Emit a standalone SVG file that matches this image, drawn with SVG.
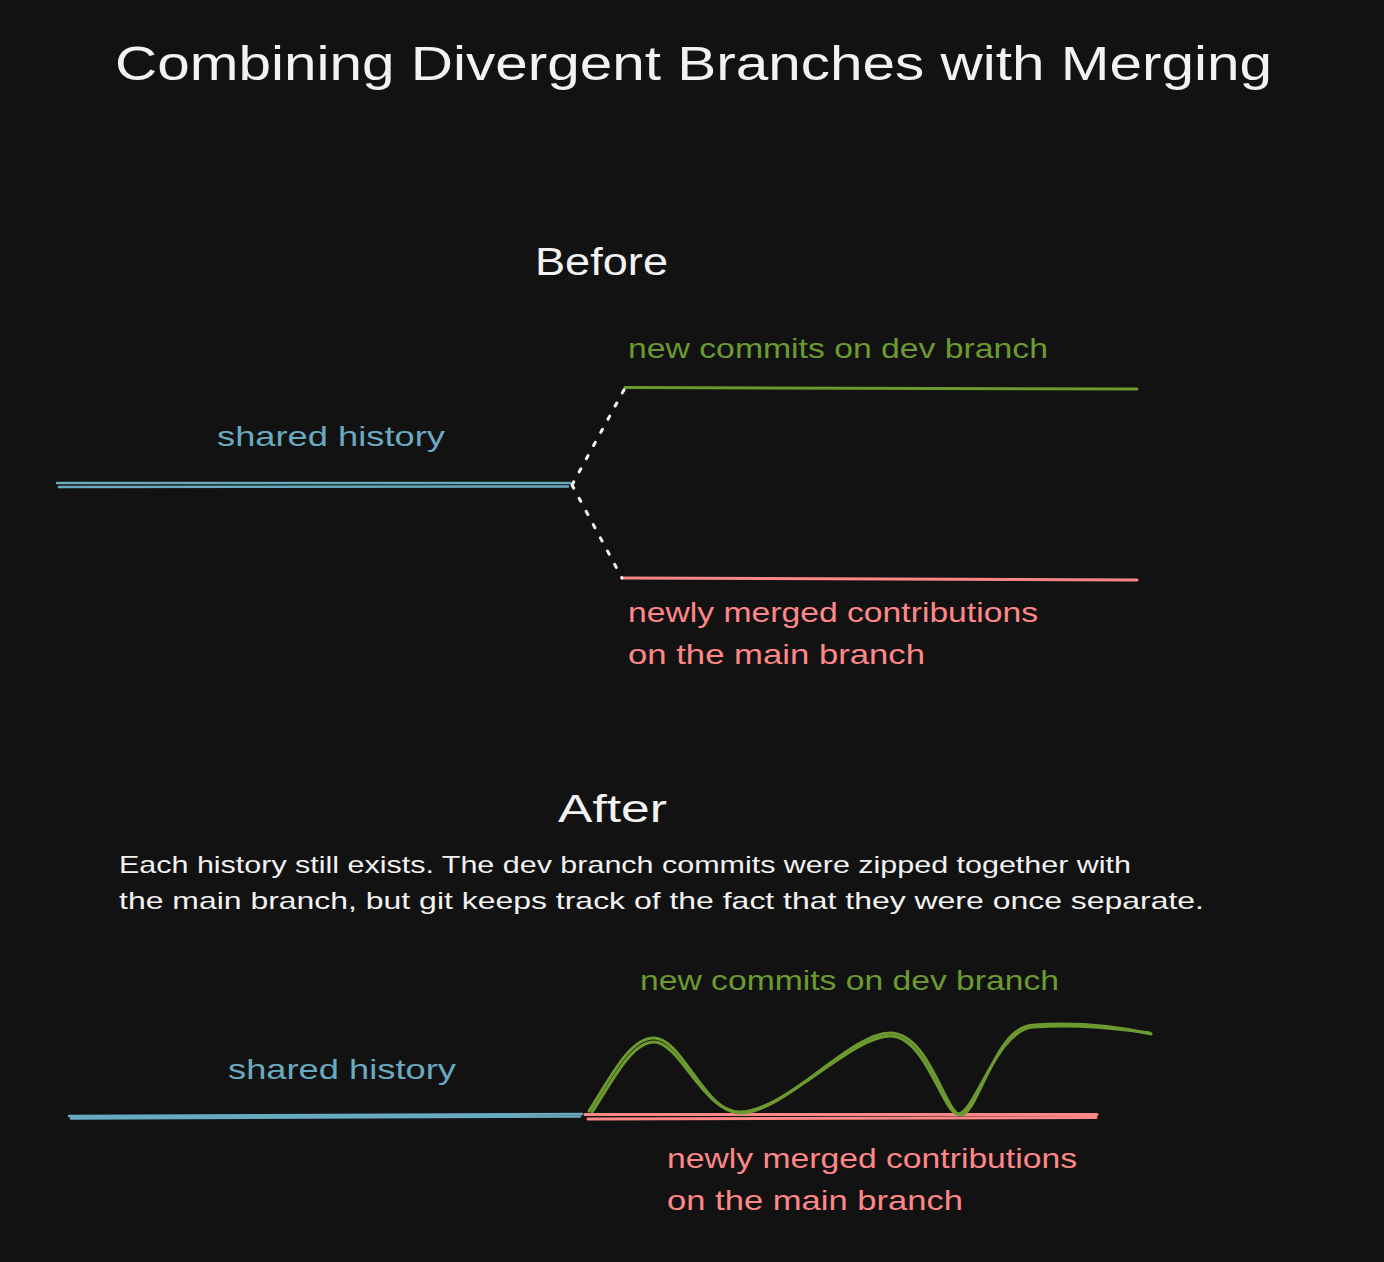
<svg xmlns="http://www.w3.org/2000/svg" width="1384" height="1262" viewBox="0 0 1384 1262">
<style>
text{font-family:"Liberation Sans","Noto Sans",sans-serif;}
.w{fill:#f2f2f2;}
.b{fill:#6aaac0;}
.g{fill:#6c9a30;}
.r{fill:#ff8787;}
.lb{stroke:#6aaac0;stroke-width:2.5;fill:none;stroke-linecap:round;}
.lg{stroke:#6c9a30;stroke-width:3;fill:none;stroke-linecap:round;}
.lr{stroke:#ff8787;stroke-width:3;fill:none;stroke-linecap:round;}
.dot{stroke:#f2f2f2;stroke-width:3;fill:none;stroke-dasharray:3.5 11.5;stroke-linecap:round;}
</style>
<rect width="1384" height="1262" fill="#121212"/>
<g id="title"><text class="w" x="115" y="80" font-size="48" textLength="1157" lengthAdjust="spacingAndGlyphs">Combining Divergent Branches with Merging</text></g>
<g id="before-label"><text class="w" x="535" y="275" font-size="38" textLength="133" lengthAdjust="spacingAndGlyphs">Before</text></g>
<g id="before-dev-label"><text class="g" x="628" y="358" font-size="28" textLength="420" lengthAdjust="spacingAndGlyphs">new commits on dev branch</text></g>
<g id="before-shared-label"><text class="b" x="217" y="446" font-size="28" textLength="228" lengthAdjust="spacingAndGlyphs">shared history</text></g>
<g id="before-main-label">
<text class="r" x="628" y="622" font-size="28" textLength="410" lengthAdjust="spacingAndGlyphs">newly merged contributions</text>
<text class="r" x="628" y="664" font-size="28" textLength="297" lengthAdjust="spacingAndGlyphs">on the main branch</text>
</g>
<g id="after-label"><text class="w" x="558" y="822" font-size="38" textLength="109" lengthAdjust="spacingAndGlyphs">After</text></g>
<g id="after-description">
<text class="w" x="119" y="873" font-size="24" textLength="1012" lengthAdjust="spacingAndGlyphs">Each history still exists. The dev branch commits were zipped together with</text>
<text class="w" x="119" y="909" font-size="24" textLength="1085" lengthAdjust="spacingAndGlyphs">the main branch, but git keeps track of the fact that they were once separate.</text>
</g>
<g id="after-dev-label"><text class="g" x="640" y="990" font-size="28" textLength="419" lengthAdjust="spacingAndGlyphs">new commits on dev branch</text></g>
<g id="after-shared-label"><text class="b" x="228" y="1079" font-size="28" textLength="228" lengthAdjust="spacingAndGlyphs">shared history</text></g>
<g id="after-main-label">
<text class="r" x="667" y="1168" font-size="28" textLength="410" lengthAdjust="spacingAndGlyphs">newly merged contributions</text>
<text class="r" x="667" y="1210" font-size="28" textLength="296" lengthAdjust="spacingAndGlyphs">on the main branch</text>
</g>
<g id="connectors">
<path class="lb" d="M57,483 L570,483 M59,487 L568,486.5"/>
<path class="lg" d="M625,387.5 L1137,389"/>
<path class="lr" d="M622,578 L1137,580"/>
<path class="dot" d="M572,485 L625,388 M572,485 L622,578"/>
<path class="lb" d="M69,1116 L582,1114 M71,1118.5 L580,1116.5"/>
<path class="lr" d="M585,1114.5 L1097,1114.5 M588,1119 L1096,1117.5"/>
<path class="lg" d="M589,1111 C612,1075 630,1038 654,1038 C682,1038 705,1113 740,1113 C785,1113 850,1033 890,1033 C930,1033 945,1115 961,1115 C978,1115 995,1025 1034,1025 C1080,1022 1120,1027 1151,1034"/>
<path class="lg" d="M592,1112 C614,1078 632,1042 654,1042 C680,1042 703,1112 740,1112 C783,1112 852,1036 890,1036 C926,1036 943,1114 958,1114 C975,1114 997,1028 1034,1027 C1080,1024 1120,1029 1150,1033" stroke-width="1.5"/>
</g>
</svg>
